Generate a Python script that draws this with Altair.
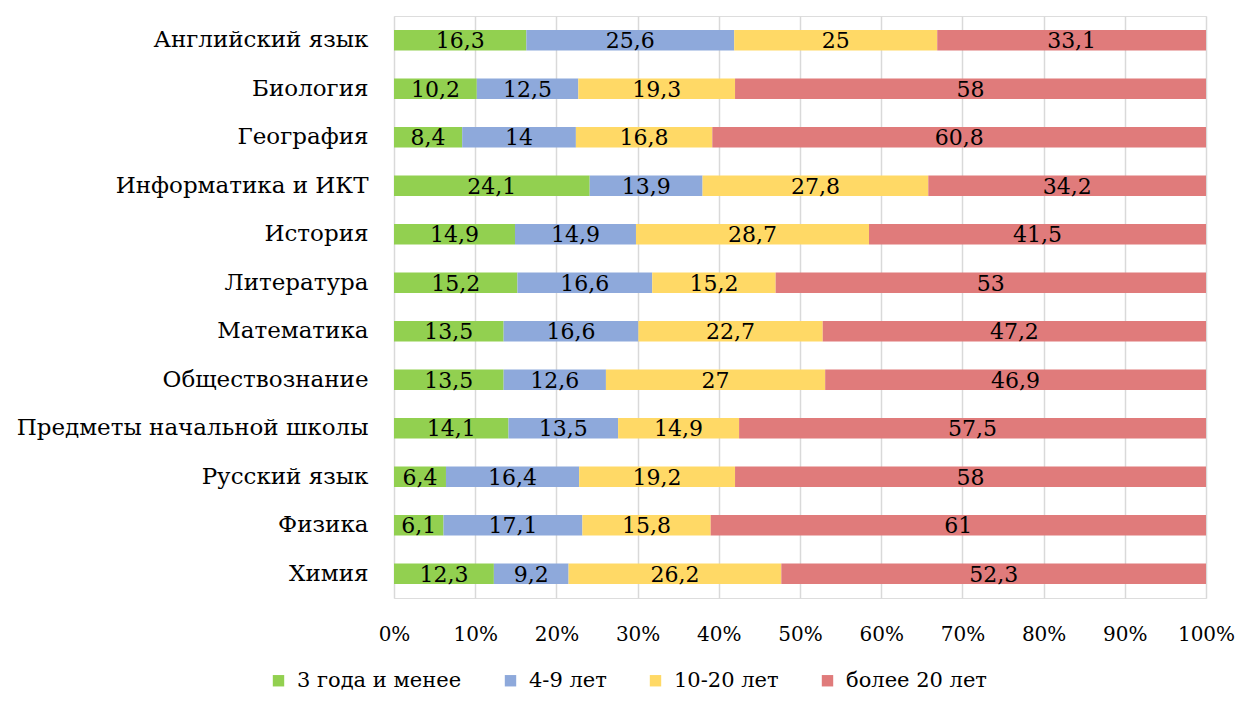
import altair as alt
import pandas as pd

subjects = ["Английский язык", "Биология", "География", "Информатика и ИКТ", "История",
            "Литература", "Математика", "Обществознание", "Предметы начальной школы",
            "Русский язык", "Физика", "Химия"]
series = ["3 года и менее", "4-9 лет", "10-20 лет", "более 20 лет"]
s1 = [16.3, 10.2, 8.4, 24.1, 14.9, 15.2, 13.5, 13.5, 14.1, 6.4, 6.1, 12.3]
s2 = [25.6, 12.5, 14, 13.9, 14.9, 16.6, 16.6, 12.6, 13.5, 16.4, 17.1, 9.2]
s3 = [25, 19.3, 16.8, 27.8, 28.7, 15.2, 22.7, 27, 14.9, 19.2, 15.8, 26.2]
s4 = [33.1, 58, 60.8, 34.2, 41.5, 53, 47.2, 46.9, 57.5, 58, 61, 52.3]
colors = ["#92D050", "#8EA9DB", "#FFD966", "#E07B7B"]

rows = []
for i, subj in enumerate(subjects):
    for k, vals in enumerate([s1, s2, s3, s4]):
        rows.append({"subject": subj, "series": series[k], "order": k, "value": vals[i]})
df = pd.DataFrame(rows)

FONT = "DejaVu Serif"

base = alt.Chart(df).transform_window(
    cum="sum(value)", groupby=["subject"], sort=[alt.SortField("order")]
).transform_calculate(
    start="datum.cum - datum.value",
    mid="datum.cum - datum.value/2",
    label="replace(format(datum.value, ''), '.', ',')"
)

y_enc = alt.Y("subject:N", sort=subjects, title=None,
              scale=alt.Scale(paddingInner=0.58, paddingOuter=0.29),
              axis=alt.Axis(labelFont=FONT, labelFontSize=23, labelColor="#000",
                            ticks=False, domain=False, labelPadding=26, labelLimit=0))

bars = base.mark_bar().encode(
    x=alt.X("start:Q", scale=alt.Scale(domain=[0, 100], nice=False),
            axis=alt.Axis(values=list(range(0, 101, 10)), labelExpr="datum.value + '%'",
                          labelFont=FONT, labelFontSize=20, labelColor="#000",
                          labelOverlap=False, labelFlush=False,
                          grid=True, gridColor="#D9D9D9", gridWidth=1.5,
                          ticks=False, domain=False, labelPadding=26), title=None),
    x2="cum:Q",
    y=y_enc,
    color=alt.Color("series:N", sort=series,
                    scale=alt.Scale(domain=series, range=colors),
                    legend=alt.Legend(orient="none", legendX=-126, legendY=654,
                                      direction="horizontal", title=None,
                                      symbolType="square", symbolSize=130, symbolStrokeWidth=0,
                                      labelFont=FONT, labelFontSize=21, labelColor="#000",
                                      labelLimit=0, columnPadding=38, labelOffset=8)),
    order=alt.Order("order:Q")
)

texts = base.mark_text(font=FONT, fontSize=22, color="#000", baseline="middle", dy=1).encode(
    x="mid:Q",
    y=alt.Y("subject:N", sort=subjects),
    text="label:N"
)

chart = (bars + texts).properties(
    width=812, height=582,
    autosize=alt.AutoSizeParams(type="none"),
    padding={"left": 386, "top": 8, "right": 30, "bottom": 94}
).configure_view(stroke=None).configure(background="white")

chart.save("out.html", embed_options={"renderer": "svg", "actions": False})
